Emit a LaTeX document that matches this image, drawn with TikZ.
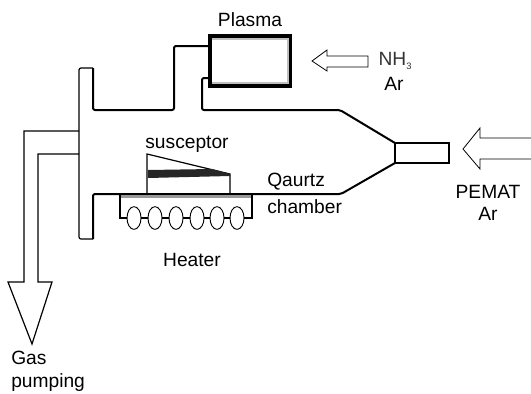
\documentclass[tikz,border=0pt]{standalone}
\usepackage{fontspec}
\setmainfont{Liberation Sans}
\usetikzlibrary{positioning,shapes.geometric}
\tikzset{
  wall/.style={line width=1.5pt, line join=round, rounded corners=1.5pt},
  thinwall/.style={line width=0.9pt, line join=miter},
  label/.style={font=\fontsize{14.4}{17}\selectfont, align=center, inner sep=0pt},
  coil/.style={draw, ellipse, line width=0.7pt, minimum width=10.5pt, minimum height=17pt, inner sep=0pt},
  gasarrow/.style={line width=0.6pt, line join=miter}
}
\begin{document}
\begin{tikzpicture}[x=0.75pt,y=-0.75pt]
\useasboundingbox (0,0) rectangle (531,393);

\node[draw, line width=2.6pt, minimum width=60pt, minimum height=37.5pt, inner sep=0pt] (plasma) at (250,61) {};
\node[label, above=5.2pt of plasma] (plasmatext) {Plasma};
\draw[black!25, line width=1pt] (212,39) -- (288,39) -- (288,83) -- (212,83);

\draw[wall] (93,68) -- (93,110) -- (174,110) -- (174,46) -- (plasma.west |- 0,46);
\draw[wall] (plasma.west |- 0,78) -- (202,78) -- (202,110) -- (340,110) -- (395,143);
\draw[wall] (93,239) -- (93,194) -- (341,194) -- (395,163);
\draw[thinwall, rounded corners=1.5pt] (93,68) -- (79,68) -- (79,239) -- (93,239);

\node[draw, line width=1.4pt, minimum width=40.5pt, minimum height=15pt, inner sep=0pt] (nozzle) at (422,153) {};

\draw[thinwall] (147,194) -- (147,154) -- (230,174) -- (230,194);
\fill[black!85] (148,170) -- (212,169) -- (230,174) -- (230,176) -- (148,178) -- cycle;

\fill[black!40] (120,195) rectangle (252,198);
\foreach \i/\x in {1/134,2/155,3/176,4/197,5/217,6/237}
  \node[coil] (coil\i) at (\x,218) {};
\draw[thinwall] (120,194) -- (120,218) -- (coil1);
\foreach \a/\b in {1/2,2/3,3/4,4/5,5/6}
  \draw[thinwall] (coil\a) -- (coil\b);
\draw[thinwall] (coil6) -- (252,218) -- (252,194);

\draw[thinwall] (79,131) -- (24,131) -- (24,282) -- (8,282) -- (32,344) -- (52,282) -- (38,282) -- (38,154) -- (79,154);

\draw[gasarrow] (368,56) -- (327,56) -- (327,50) -- (312,61) -- (327,71) -- (327,67) -- (368,67) -- cycle;
\draw[gasarrow] (531,138) -- (480,138) -- (480,128) -- (463,149) -- (480,169) -- (480,159) -- (531,159);

\node[label] (susceptortext) at (187,144) {susceptor};
\node[label, anchor=west] (qaurtztext) at (267,182) {Qaurtz};
\node[label, anchor=west] (chambertext) at (267,207) {chamber};
\node[label] (heatertext) at (192,260) {Heater};
\node[label, anchor=west] (gastext) at (11,358) {Gas};
\node[label, anchor=west] (pumpingtext) at (11,383) {pumping};
\node[label, text=black!80] (nhtext) at (395,61) {NH\raisebox{-3pt}{\fontsize{7}{8}\selectfont 3}};
\node[label] (artext) at (394,84) {Ar};
\node[label] (pematwtext) at (488,192) {PEMAT};
\node[label] (pemarartext) at (488,214) {Ar};
\end{tikzpicture}
\end{document}
